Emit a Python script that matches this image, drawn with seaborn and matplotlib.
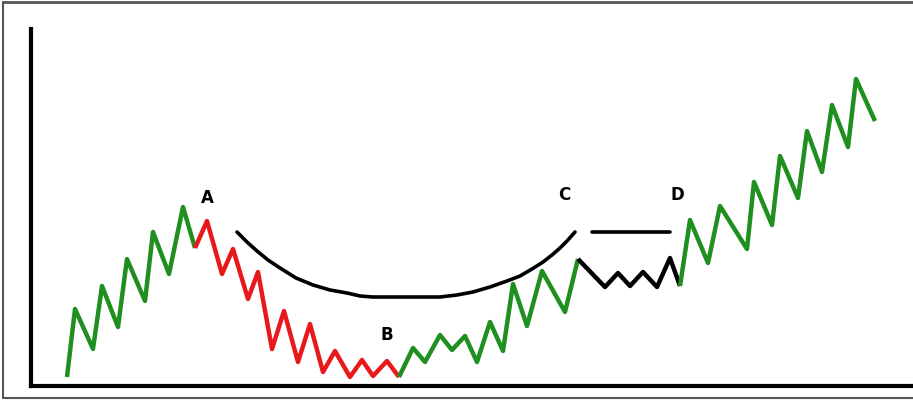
import matplotlib
matplotlib.use("Agg")
import matplotlib.pyplot as plt
import seaborn as sns
from matplotlib.lines import Line2D

sns.set_style("white")
plt.rcParams['font.family'] = ['DejaVu Sans']

# 杯柄形态示意数据（x 为时间位置，y 为价格高度）
rise_x = [67, 75, 93, 102, 118, 127, 145, 153, 169, 183, 195]
rise_y = [9, 77, 37, 100, 59, 127, 85, 154, 112, 179, 138]

drop_x = [195, 207, 222, 233, 248, 258, 272, 284, 298, 310, 323, 335, 350, 362, 373, 387, 399]
drop_y = [138, 165, 112, 137, 87, 114, 37, 75, 24, 62, 14, 35, 9, 26, 10, 25, 9]

recover_x = [399, 413, 425, 440, 452, 465, 477, 490, 503, 513, 527, 542, 565, 578]
recover_y = [9, 38, 24, 51, 36, 50, 24, 64, 35, 102, 60, 115, 74, 127]

handle_x = [578, 605, 618, 630, 643, 657, 670, 680]
handle_y = [127, 99, 113, 100, 114, 99, 128, 100]

breakout_x = [680, 690, 708, 720, 747, 754, 772, 780, 798, 807, 822, 832, 848, 856, 875]
breakout_y = [100, 166, 123, 180, 137, 204, 161, 230, 188, 255, 214, 281, 239, 307, 265]

# 杯的弧线和柄的水平线
cup_x = [237, 247, 257, 268, 280, 296, 313, 330, 347, 360, 373, 400, 440,
         457, 473, 490, 507, 520, 532, 543, 552, 560, 567, 575]
cup_y = [154, 144, 135, 126, 118, 108, 101, 96, 93, 90, 89, 89, 89,
         91, 94, 99, 105, 110, 117, 124, 131, 138, 145, 154]
lid_x = [592, 670]
lid_y = [154, 154]

labels = ['A', 'B', 'C', 'D']
label_x = [207, 387, 564, 677]
label_y = [189, 52, 192, 192]

green = '#1f8f1f'
red = '#e8191c'

fig = plt.figure(figsize=(9.13, 4.02), dpi=100)
ax = fig.add_axes([31 / 913, 15 / 402, 882 / 913, 357 / 402])

for xs, ys, c in [(rise_x, rise_y, green), (drop_x, drop_y, red),
                  (recover_x, recover_y, green), (handle_x, handle_y, 'black'),
                  (breakout_x, breakout_y, green)]:
    sns.lineplot(x=xs, y=ys, ax=ax, color=c, linewidth=3.2, sort=False,
                 estimator=None, solid_joinstyle='round', solid_capstyle='butt')

sns.lineplot(x=cup_x, y=cup_y, ax=ax, color='black', linewidth=2.6, sort=False,
             estimator=None, solid_joinstyle='round')
sns.lineplot(x=lid_x, y=lid_y, ax=ax, color='black', linewidth=2.6, sort=False, estimator=None)

for t, x, y in zip(labels, label_x, label_y):
    ax.text(x, y, t, ha='center', va='center', fontsize=12, fontweight='bold', color='black')

ax.set_xlim(31, 913)
ax.set_ylim(0, 357)
ax.set_xticks([])
ax.set_yticks([])
ax.spines['top'].set_visible(False)
ax.spines['right'].set_visible(False)
ax.spines['left'].set_linewidth(3)
ax.spines['bottom'].set_linewidth(3)
ax.spines['left'].set_color('black')
ax.spines['bottom'].set_color('black')
ax.patch.set_alpha(0)

# 外框（右侧被裁掉）
for xs, ys, lw in [([3, 3], [3, 399], 1.5), ([3, 913], [3, 3], 2), ([3, 913], [399, 399], 1.5)]:
    fig.add_artist(Line2D([v / 913 for v in xs], [1 - v / 402 for v in ys],
                          color='#555555', linewidth=lw))

fig.savefig('out.png', dpi=100, facecolor='white')
